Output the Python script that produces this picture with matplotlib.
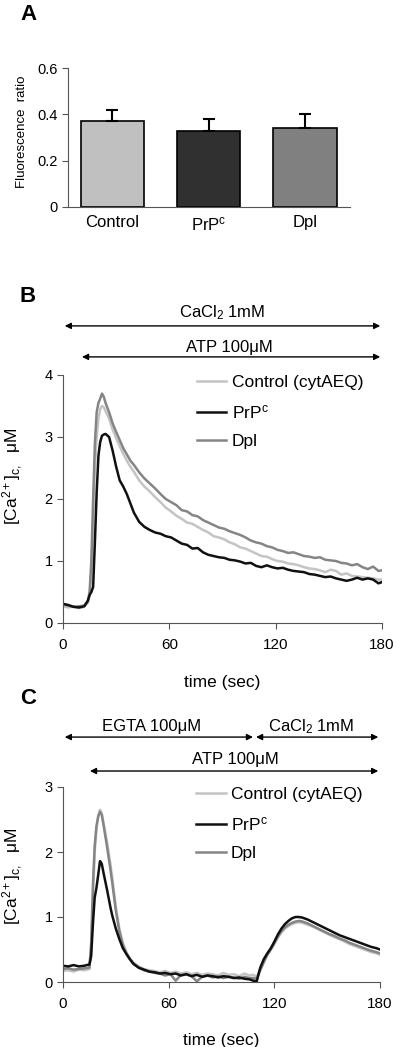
import matplotlib
matplotlib.use('Agg')
import matplotlib.pyplot as plt

plt.rcParams['font.family'] = ['Liberation Sans', 'DejaVu Sans']
plt.rcParams['mathtext.fontset'] = 'custom'
plt.rcParams['mathtext.rm'] = 'Liberation Sans'
plt.rcParams['mathtext.it'] = 'Liberation Sans:italic'

# panel A
groups = ['Control', 'PrP$^{\\mathrm{c}}$', 'Dpl']
ratio = [0.37, 0.33, 0.34]
ratio_err = [0.05, 0.05, 0.06]
bar_colors = ['#c0c0c0', '#303030', '#808080']

# panel B
t_b = [0, 3, 6, 9, 12,
       14, 15, 16, 17, 18, 19, 20, 21, 22, 23, 24,
       26, 28, 30, 32, 34, 36, 38, 40,
       43, 46, 49, 52, 55, 58, 61, 64, 67, 70, 73, 76, 79, 82, 85, 88, 91, 94, 97, 100,
       103, 106, 109, 112, 115, 118, 121, 124, 127, 130, 133, 136, 139, 142, 145, 148,
       151, 154, 157, 160, 163, 166, 169, 172, 175, 178,
       180]
ctrl_b = [0.27, 0.25, 0.27, 0.24, 0.26,
          0.33, 0.45, 0.8, 1.6, 2.5, 3.0, 3.3, 3.45, 3.5, 3.48, 3.42,
          3.3, 3.12, 2.98, 2.85, 2.73, 2.62, 2.52, 2.44,
          2.3, 2.2, 2.12, 2.03, 1.95, 1.86, 1.8, 1.73, 1.68, 1.62, 1.6, 1.55, 1.5, 1.46, 1.4, 1.38,
          1.35, 1.3, 1.27, 1.22, 1.2, 1.16, 1.12, 1.08, 1.07, 1.03, 1.0, 0.99, 0.96, 0.95, 0.93, 0.9,
          0.88, 0.87, 0.85, 0.82, 0.86, 0.84, 0.78, 0.8, 0.76, 0.75, 0.74, 0.73, 0.72, 0.7,
          0.7]
prp_b = [0.31, 0.29, 0.26, 0.25, 0.27,
         0.36, 0.45, 0.5, 0.58, 1.3, 2.1, 2.7, 2.92, 3.02, 3.04, 3.05,
         3.0, 2.78, 2.52, 2.3, 2.2, 2.08, 1.93, 1.78,
         1.63, 1.55, 1.5, 1.46, 1.44, 1.4, 1.38, 1.33, 1.28, 1.26, 1.2, 1.21, 1.14, 1.1, 1.08, 1.06,
         1.05, 1.02, 1.01, 0.99, 0.96, 0.97, 0.92, 0.9, 0.93, 0.9, 0.88, 0.89, 0.86, 0.84, 0.83, 0.82,
         0.79, 0.78, 0.76, 0.74, 0.75, 0.72, 0.7, 0.68, 0.7, 0.73, 0.7, 0.72, 0.7, 0.64,
         0.66]
dpl_b = [0.3, 0.28, 0.26, 0.27, 0.28,
         0.34, 0.5, 1.0, 2.0, 2.9, 3.4, 3.55, 3.62, 3.7, 3.65, 3.55,
         3.4, 3.22, 3.08, 2.95, 2.82, 2.72, 2.62, 2.55,
         2.43, 2.33, 2.25, 2.17, 2.08, 2.0, 1.95, 1.9, 1.82, 1.8, 1.74, 1.72, 1.66, 1.62, 1.58, 1.54,
         1.52, 1.48, 1.45, 1.42, 1.38, 1.33, 1.3, 1.28, 1.24, 1.22, 1.18, 1.16, 1.13, 1.14, 1.11, 1.08,
         1.07, 1.05, 1.06, 1.02, 1.01, 1.0, 0.97, 0.96, 0.93, 0.95, 0.9, 0.87, 0.91, 0.84,
         0.85]

# panel C
t_c = [0, 3, 6, 9, 12,
       15, 16, 17, 18, 19, 20, 21, 22, 23, 24, 25, 26, 27, 28,
       30, 32, 34, 36, 38, 40,
       43, 46, 49, 52, 55, 58, 61, 64, 67, 70, 73, 76, 79, 82, 85, 88, 91, 94, 97, 100, 103, 106,
       108, 110, 112, 114, 116, 118, 120, 122, 124, 126, 128, 130, 132, 134, 136,
       139, 142, 145, 148, 151, 154, 157, 160, 163, 166, 169, 172, 175, 178,
       180]
ctrl_c = [0.17, 0.18, 0.16, 0.19, 0.18,
          0.2, 0.5, 1.3, 2.0, 2.35, 2.55, 2.65, 2.6, 2.45, 2.3, 2.15, 1.98, 1.8, 1.6,
          1.15, 0.82, 0.6, 0.46, 0.36, 0.3,
          0.24, 0.2, 0.18, 0.17, 0.15, 0.17, 0.14, 0.16, 0.13, 0.15, 0.12, 0.14, 0.11, 0.13, 0.12, 0.1,
          0.14, 0.11, 0.12, 0.09, 0.13, 0.1,
          0.11, 0.08, 0.2, 0.33, 0.42, 0.5, 0.58, 0.68, 0.76, 0.82, 0.86, 0.89, 0.91, 0.92, 0.91,
          0.88, 0.85, 0.81, 0.77, 0.73, 0.69, 0.66, 0.62, 0.58, 0.55, 0.52, 0.49, 0.46, 0.44,
          0.42]
prp_c = [0.25, 0.24, 0.26, 0.24, 0.25,
         0.27, 0.4, 0.9, 1.3, 1.45, 1.65, 1.86, 1.82, 1.68, 1.55, 1.42, 1.28, 1.14, 1.02,
         0.82, 0.66, 0.52, 0.43, 0.35, 0.28,
         0.22, 0.19, 0.16, 0.15, 0.13, 0.14, 0.12, 0.13, 0.1, 0.12, 0.09, 0.11, 0.08, 0.1, 0.09, 0.07,
         0.09, 0.08, 0.06, 0.07, 0.05, 0.04,
         0.02, 0.01, 0.22, 0.35, 0.44, 0.52, 0.62, 0.73, 0.82, 0.89, 0.94, 0.98, 1.0, 1.0, 0.99,
         0.96, 0.92, 0.88, 0.84, 0.8, 0.76, 0.72, 0.69, 0.66, 0.63, 0.6, 0.57, 0.54, 0.52,
         0.5]
dpl_c = [0.2, 0.21, 0.19, 0.2, 0.21,
         0.22, 0.6, 1.5, 2.1, 2.4, 2.55, 2.62, 2.57, 2.42, 2.25, 2.08, 1.9, 1.72, 1.52,
         1.1, 0.78, 0.57, 0.44, 0.35, 0.28,
         0.22, 0.18, 0.16, 0.14, 0.13, 0.1, 0.12, 0.02, 0.11, 0.12, 0.09, 0.01, 0.08, 0.1, 0.07, 0.09,
         0.06, 0.08, 0.07, 0.05, 0.08, 0.06,
         0.06, 0.05, 0.18, 0.3, 0.42, 0.5, 0.6, 0.7, 0.78, 0.84, 0.88, 0.91, 0.93, 0.94, 0.93,
         0.9, 0.86, 0.82, 0.78, 0.74, 0.71, 0.67, 0.64, 0.6, 0.57, 0.54, 0.51, 0.48, 0.46,
         0.44]

line_colors = {'ctrl': '#c4c4c4', 'prp': '#101010', 'dpl': '#858585'}
labels = ['Control (cytAEQ)', 'PrP$^{\\mathrm{c}}$', 'Dpl']

W, H = 400, 1047
fig = plt.figure(figsize=(W / 100, H / 100), dpi=100)


def px_axes(left, top, right, bottom):
    # pixel box -> figure fraction
    return fig.add_axes([left / W, 1 - bottom / H, (right - left) / W, (bottom - top) / H])


def style_axes(ax):
    for s in ['top', 'right']:
        ax.spines[s].set_visible(False)
    for s in ['left', 'bottom']:
        ax.spines[s].set_color('#555555')
        ax.spines[s].set_linewidth(0.8)
    ax.tick_params(direction='out', length=4, width=0.8, color='#555555')


def arrow(ax, x0, x1, y):
    ax.annotate('', xy=(x1, y), xytext=(x0, y), xycoords=('data', 'axes fraction'),
                textcoords=('data', 'axes fraction'), annotation_clip=False,
                arrowprops=dict(arrowstyle='<|-|>', color='k', lw=1, mutation_scale=9,
                                shrinkA=0, shrinkB=0))


# ---- A
axa = px_axes(68, 68, 350, 207)
style_axes(axa)
pos = range(len(groups))
axa.bar(pos, ratio, width=0.66, color=bar_colors, edgecolor='k', linewidth=1.2,
        yerr=[[0] * 3, ratio_err], capsize=4,
        error_kw=dict(ecolor='k', elinewidth=1.5, capthick=1.5))
axa.set_xlim(-0.46, 2.47)
axa.set_ylim(0, 0.6)
axa.set_yticks([0, 0.2, 0.4, 0.6])
axa.set_yticklabels(['0', '0.2', '0.4', '0.6'], fontsize=10.5)
axa.set_xticks(list(pos))
axa.set_xticklabels(groups, fontsize=12)
axa.tick_params(axis='x', length=0, pad=6)
axa.set_ylabel('Fluorescence  ratio', fontsize=9.5)
axa.yaxis.set_label_coords(-0.142, 0.54)
fig.text(28 / W, 1 - 15 / H, 'A', fontsize=16, fontweight='bold', ha='center', va='center')


def trace_panel(ax, t, ctrl, prp, dpl, ymax, label_y):
    style_axes(ax)
    h1, = ax.plot(t, ctrl, color=line_colors['ctrl'], lw=1.8)
    h3, = ax.plot(t, dpl, color=line_colors['dpl'], lw=1.8)
    h2, = ax.plot(t, prp, color=line_colors['prp'], lw=1.8)
    ax.set_xlim(0, 180)
    ax.set_ylim(0, ymax)
    ax.set_xticks([0, 60, 120, 180])
    ax.set_yticks(range(ymax + 1))
    ax.tick_params(axis='x', labelsize=11, pad=7)
    ax.tick_params(axis='y', labelsize=10.5)
    ax.set_xlabel('time (sec)', fontsize=12.5, labelpad=16)
    ax.set_ylabel('[Ca$^{2+}$]$_{\\mathrm{c,}}$  \u03bcM', fontsize=12.5)
    ax.yaxis.set_label_coords(-0.119, label_y)
    ax.legend([h1, h2, h3], labels, loc='upper left', bbox_to_anchor=(0.42, 1.0),
              frameon=False, fontsize=12.5, handlelength=1.7, handletextpad=0.3,
              labelspacing=0.75, borderpad=0, borderaxespad=0)
    return ax


# ---- B
axb = px_axes(63, 375, 382, 623)
trace_panel(axb, t_b, ctrl_b, prp_b, dpl_b, 4, 0.59)
arrow(axb, 1, 179, 1.198)
arrow(axb, 10.7, 179, 1.073)
axb.text(90, 1.25, 'CaCl$_2$ 1mM', transform=axb.get_xaxis_transform(),
         ha='center', va='center', fontsize=12)
axb.text(94, 1.11, 'ATP 100\u03bcM', transform=axb.get_xaxis_transform(),
         ha='center', va='center', fontsize=12)
fig.text(28 / W, 1 - 296 / H, 'B', fontsize=16, fontweight='bold', ha='center', va='center')

# ---- C
axc = px_axes(63, 787, 380, 982)
trace_panel(axc, t_c, ctrl_c, prp_c, dpl_c, 3, 0.54)
arrow(axc, 1, 107.9, 1.256)
arrow(axc, 109.6, 179, 1.256)
arrow(axc, 15.3, 179, 1.082)
axc.text(50.5, 1.31, 'EGTA 100\u03bcM', transform=axc.get_xaxis_transform(),
         ha='center', va='center', fontsize=12)
axc.text(141, 1.31, 'CaCl$_2$ 1mM', transform=axc.get_xaxis_transform(),
         ha='center', va='center', fontsize=12)
axc.text(97.7, 1.14, 'ATP 100\u03bcM', transform=axc.get_xaxis_transform(),
         ha='center', va='center', fontsize=12)
fig.text(28 / W, 1 - 698 / H, 'C', fontsize=16, fontweight='bold', ha='center', va='center')

fig.savefig('out.png', dpi=100)
